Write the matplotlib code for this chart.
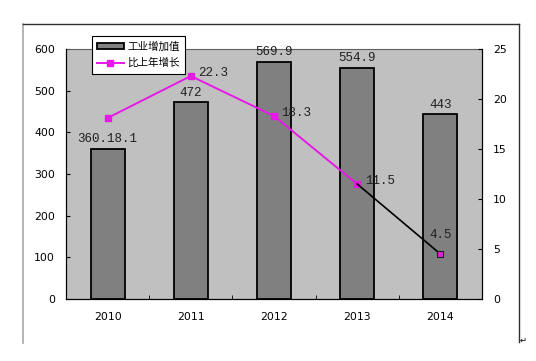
import matplotlib
matplotlib.use("Agg")
import matplotlib.pyplot as plt
from matplotlib.lines import Line2D
from matplotlib.patches import Patch

years = ["2010", "2011", "2012", "2013", "2014"]
value_added = [360.1, 472, 569.9, 554.9, 443]
growth = [18.1, 22.3, 18.3, 11.5, 4.5]
bar_labels = ["360.18.1", "472", "569.9", "554.9", "443"]
growth_labels = ["", "22.3", "18.3", "11.5", "4.5"]

plt.rcParams['font.family'] = ['DejaVu Sans']
fig = plt.figure(figsize=(5.36, 3.61), dpi=100)
fig.patch.set_facecolor('white')

# outer chart frame (no bottom edge)
fig.add_artist(Line2D([23/536, 23/536], [1-343/361, 1-24/361], color='#a8a8a8', lw=1.2))
fig.add_artist(Line2D([23/536, 519/536], [1-24/361, 1-24/361], color='#303030', lw=1.0))
fig.add_artist(Line2D([519/536, 519/536], [1-342/361, 1-24/361], color='#303030', lw=1.0))
fig.text(520/536, 1-340/361, "\u21b5", fontsize=6, ha='left', va='center')

ax = fig.add_axes([66/536, 1-299/361, 416/536, 250/361])
ax.set_facecolor('#c0c0c0')
x = list(range(len(years)))
ax.bar(x, value_added, width=0.41, color='#808080', edgecolor='black', lw=1.3, zorder=2)
ax.set_xlim(-0.5, 4.5)
ax.set_ylim(0, 600)
ax.set_yticks(range(0, 601, 100))
ax.set_xticks(x)
ax.set_xticklabels(years)
ax.set_xticks([0.5, 1.5, 2.5, 3.5], minor=True)
ax.tick_params(axis='x', which='major', length=0, labelsize=7.8, pad=9)
ax.tick_params(axis='x', which='minor', length=3, direction='in')
ax.tick_params(axis='y', length=3, direction='in', labelsize=7.8, pad=8)
for s in ['left', 'bottom', 'right']:
    ax.spines[s].set_color('black')
ax.spines['top'].set_color('#606060')

for i, v in enumerate(value_added):
    ax.text(i, v + 9, bar_labels[i], ha='center', va='bottom', fontsize=9,
            family='Liberation Mono', color='#202020', zorder=5)

ax2 = ax.twinx()
ax2.set_ylim(0, 25)
ax2.set_yticks(range(0, 26, 5))
ax2.tick_params(axis='y', length=3, direction='in', labelsize=7.8, pad=8)
ax2.spines['top'].set_visible(False)
ax2.plot(x[:4], growth[:4], color='#e619e6', lw=1.4, marker='s', ms=4.5, zorder=3)
ax2.plot(x[3:], growth[3:], color='black', lw=1.2, zorder=3)
ax2.plot(x[4], growth[4], marker='s', ms=4.5, mfc='#e619e6', mec='#202020', mew=0.8, zorder=4)

for i, v in enumerate(growth):
    if not growth_labels[i]:
        continue
    if i == 4:
        ax2.text(i, v + 1.3, growth_labels[i], ha='center', va='bottom', fontsize=9,
                 family='Liberation Mono', color='#202020')
    else:
        ax2.text(i + 0.09, v - 0.3, growth_labels[i], ha='left', va='bottom', fontsize=9,
                 family='Liberation Mono', color='#202020')

handles = [Patch(facecolor='#808080', edgecolor='black', lw=1.3),
           Line2D([], [], color='#e619e6', lw=1.4, marker='s', ms=4.5)]
leg = ax2.legend(handles, ["工业增加值", "比上年增长"], loc='upper left',
                 bbox_to_anchor=(0.0625, 1.052), borderaxespad=0, frameon=True,
                 fancybox=False, framealpha=1, edgecolor='black', borderpad=0.5,
                 labelspacing=0.6, handlelength=2.5, handleheight=0.5, handletextpad=0.35,
                 prop={'family': ['Noto Sans CJK SC', 'DejaVu Sans'], 'size': 7.6})
leg.get_frame().set_linewidth(0.8)
leg.set_zorder(10)

fig.savefig("out.png", dpi=100)
